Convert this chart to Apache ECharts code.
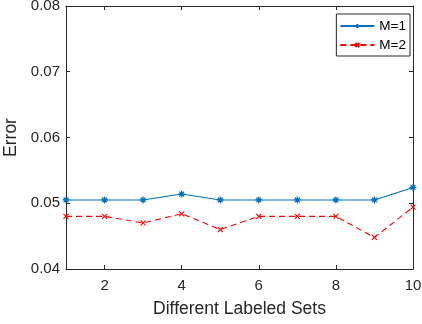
<!DOCTYPE html>
<html><head><meta charset="utf-8">
<script src="https://cdn.jsdelivr.net/npm/echarts@6/dist/echarts.min.js"></script>
<style>html,body{margin:0;padding:0;background:#fff}#c{width:422px;height:324px}</style>
</head><body><div id="c"></div>
<script>
const categories = [1,2,3,4,5,6,7,8,9,10];
const m1 = [0.0505,0.0505,0.0505,0.0514,0.0505,0.0505,0.0505,0.0505,0.0505,0.0524];
const m2 = [0.0480,0.0480,0.0470,0.0484,0.0460,0.0480,0.0480,0.0480,0.0448,0.0494];
const xTicks = [2,4,6,8,10];
const yTicks = [0.04,0.05,0.06,0.07,0.08];
const FONT = 'Liberation Sans';
const star = 'path://M0,-1L0,1M-1,0L1,0M-0.7,-0.7L0.7,0.7M-0.7,0.7L0.7,-0.7';
const cross = 'path://M-1,-1L1,1M-1,1L1,-1';
const chart = echarts.init(document.getElementById('c'));
const axisLine = {show:true, lineStyle:{color:'#262626', width:1}};
chart.setOption({
  animation:false,
  grid:{left:66, right:9, top:6, bottom:55, containLabel:false, outerBoundsMode:'none'},
  legend:{
    right:12, top:14, orient:'vertical', itemWidth:34, itemHeight:5, itemGap:5,
    padding:[5,4,4,3], borderColor:'#262626', borderWidth:1, backgroundColor:'#fff',
    textStyle:{fontFamily:FONT, fontSize:13.5, color:'#000'},
    data:['M=1','M=2']
  },
  xAxis:[{
    type:'value', min:1, max:10,
    name:'Different Labeled Sets', nameLocation:'middle', nameGap:31,
    nameTextStyle:{fontFamily:FONT, fontSize:17.5, color:'#262626'},
    axisLine:axisLine,
    axisTick:{show:true, inside:true, length:4, customValues:xTicks, lineStyle:{color:'#262626'}},
    axisLabel:{customValues:xTicks, fontFamily:FONT, fontSize:15, color:'#262626', margin:9},
    splitLine:{show:false}
  },{
    type:'value', min:1, max:10, position:'top',
    axisLine:axisLine,
    axisTick:{show:true, inside:true, length:4, customValues:xTicks, lineStyle:{color:'#262626'}},
    axisLabel:{show:false}, splitLine:{show:false}
  }],
  yAxis:[{
    type:'value', min:0.04, max:0.08, interval:0.01,
    name:'Error', nameLocation:'middle', nameGap:44,
    nameTextStyle:{fontFamily:FONT, fontSize:17.5, color:'#262626'},
    axisLine:axisLine,
    axisTick:{show:true, inside:true, length:4, lineStyle:{color:'#262626'}},
    axisLabel:{fontFamily:FONT, fontSize:15, color:'#262626', margin:6, formatter:v=>v.toFixed(2)},
    splitLine:{show:false}
  },{
    type:'value', min:0.04, max:0.08, interval:0.01, position:'right',
    axisLine:axisLine,
    axisTick:{show:true, inside:true, length:4, lineStyle:{color:'#262626'}},
    axisLabel:{show:false}, splitLine:{show:false}
  }],
  series:[{
    name:'M=1', type:'line', data:categories.map((c,i)=>[c,m1[i]]),
    symbol:star, symbolSize:7, showAllSymbol:true,
    lineStyle:{color:'#0072BD', width:1.1},
    itemStyle:{color:'#0072BD', borderColor:'#0072BD', borderWidth:1.2}
  },{
    name:'M=2', type:'line', data:categories.map((c,i)=>[c,m2[i]]),
    symbol:cross, symbolSize:5, showAllSymbol:true,
    lineStyle:{color:'#FF0000', width:1.1, type:[6,4]},
    itemStyle:{color:'#FF0000', borderColor:'#FF0000', borderWidth:1.1}
  }]
});
</script></body></html>
